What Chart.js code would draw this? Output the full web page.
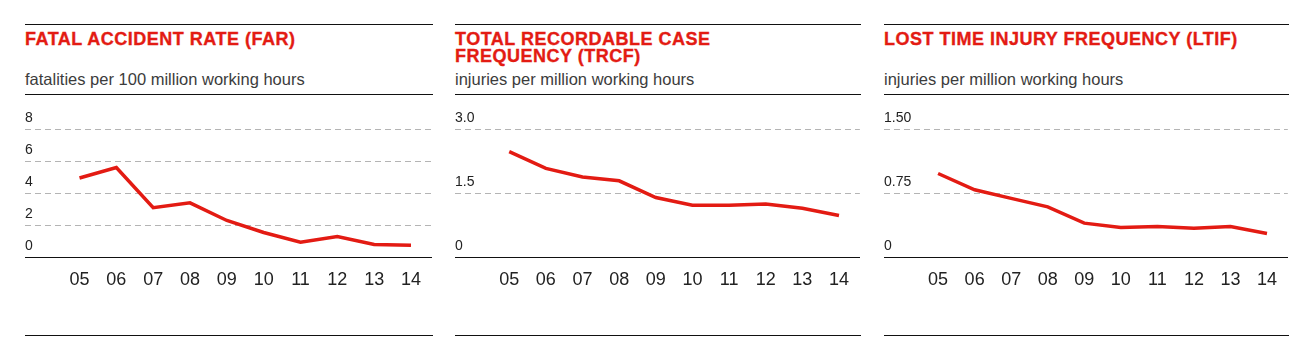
<!DOCTYPE html>
<html>
<head>
<meta charset="utf-8">
<script src="https://cdn.jsdelivr.net/npm/chart.js@4.4.1/dist/chart.umd.min.js"></script>
<style>
  body { margin: 0; background: #fff; width: 1306px; height: 361px; position: relative; overflow: hidden; font-family: "Liberation Sans", Arial, sans-serif; }
  .panel { position: absolute; top: 24px; height: 310px; border-top: 1px solid #111; border-bottom: 1px solid #111; }
  .title { position: absolute; left: 0; top: 6px; margin: 0; color: #e31b13; font-weight: bold; font-size: 18px; line-height: 17px; letter-spacing: 0.5px; white-space: nowrap; -webkit-text-stroke: 0.35px #e31b13; }
  .sub { position: absolute; left: 0; top: 44px; color: #3c3c3c; font-size: 16.5px; line-height: 20px; white-space: nowrap; }
  .rule { position: absolute; left: 0; right: 0; top: 69px; border-top: 1px solid #111; }
  canvas { position: absolute; left: 0; top: 71px; }
</style>
</head>
<body>

<div class="panel" style="left:25px;width:408px">
  <div class="title">FATAL ACCIDENT RATE (FAR)</div>
  <div class="sub">fatalities per 100 million working hours</div>
  <div class="rule"></div>
  <canvas id="far" width="408" height="216"></canvas>
</div>

<div class="panel" style="left:455px;width:406px">
  <div class="title">TOTAL RECORDABLE CASE<br>FREQUENCY (TRCF)</div>
  <div class="sub">injuries per million working hours</div>
  <div class="rule"></div>
  <canvas id="trcf" width="406" height="216"></canvas>
</div>

<div class="panel" style="left:884px;width:405px">
  <div class="title">LOST TIME INJURY FREQUENCY (LTIF)</div>
  <div class="sub">injuries per million working hours</div>
  <div class="rule"></div>
  <canvas id="ltif" width="405" height="216"></canvas>
</div>

<script>
const categories = ['05', '06', '07', '08', '09', '10', '11', '12', '13', '14'];

const farValues = [4.95, 5.6, 3.1, 3.4, 2.3, 1.55, 0.95, 1.3, 0.8, 0.75];
const trcfValues = [2.47, 2.08, 1.88, 1.79, 1.40, 1.22, 1.22, 1.25, 1.15, 0.98];
const ltifValues = [0.98, 0.79, 0.69, 0.59, 0.40, 0.35, 0.36, 0.34, 0.36, 0.28];

const farTicks = ['0', '2', '4', '6', '8'];
const trcfTicks = ['0', '1.5', '3.0'];
const ltifTicks = ['0', '0.75', '1.50'];

const red = '#e31b13';

function makeChart(id, values, tickLabels, yMax, yStep) {
    return new Chart(document.getElementById(id), {
        type: 'line',
        data: {
            datasets: [{
                data: values.map((v, i) => ({ x: i, y: v })),
                borderColor: red,
                borderWidth: 3.5,
                pointRadius: 0,
                tension: 0,
                fill: false
            }]
        },
        options: {
            responsive: false,
            animation: false,
            events: [],
            layout: { padding: { top: 33, bottom: 9, left: 0, right: 0 } },
            plugins: { legend: { display: false }, tooltip: { enabled: false } },
            scales: {
                x: {
                    type: 'linear',
                    min: -1.48,
                    max: 9.57,
                    afterBuildTicks: (scale) => {
                        scale.ticks = categories.map((c, i) => ({ value: i }));
                    },
                    grid: { display: false, drawTicks: false },
                    border: { display: true, color: '#111', width: 1 },
                    ticks: {
                        padding: 12,
                        maxRotation: 0,
                        autoSkip: false,
                        color: '#222',
                        font: { family: 'Liberation Sans', size: 18 },
                        callback: (v) => categories[v]
                    }
                },
                y: {
                    min: 0,
                    max: yMax,
                    grid: {
                        drawTicks: false,
                        color: (ctx) => ctx.tick && ctx.tick.value === 0 ? 'rgba(0,0,0,0)' : '#b4b4b4',
                        lineWidth: 1
                    },
                    border: { display: false, dash: [6, 4] },
                    ticks: {
                        stepSize: yStep,
                        mirror: true,
                        padding: 0,
                        labelOffset: -11,
                        color: '#222',
                        font: { family: 'Liberation Sans', size: 14 },
                        callback: (v, i) => tickLabels[i]
                    }
                }
            }
        }
    });
}

makeChart('far', farValues, farTicks, 8, 2);
makeChart('trcf', trcfValues, trcfTicks, 3, 1.5);
makeChart('ltif', ltifValues, ltifTicks, 1.5, 0.75);
</script>
</body>
</html>
